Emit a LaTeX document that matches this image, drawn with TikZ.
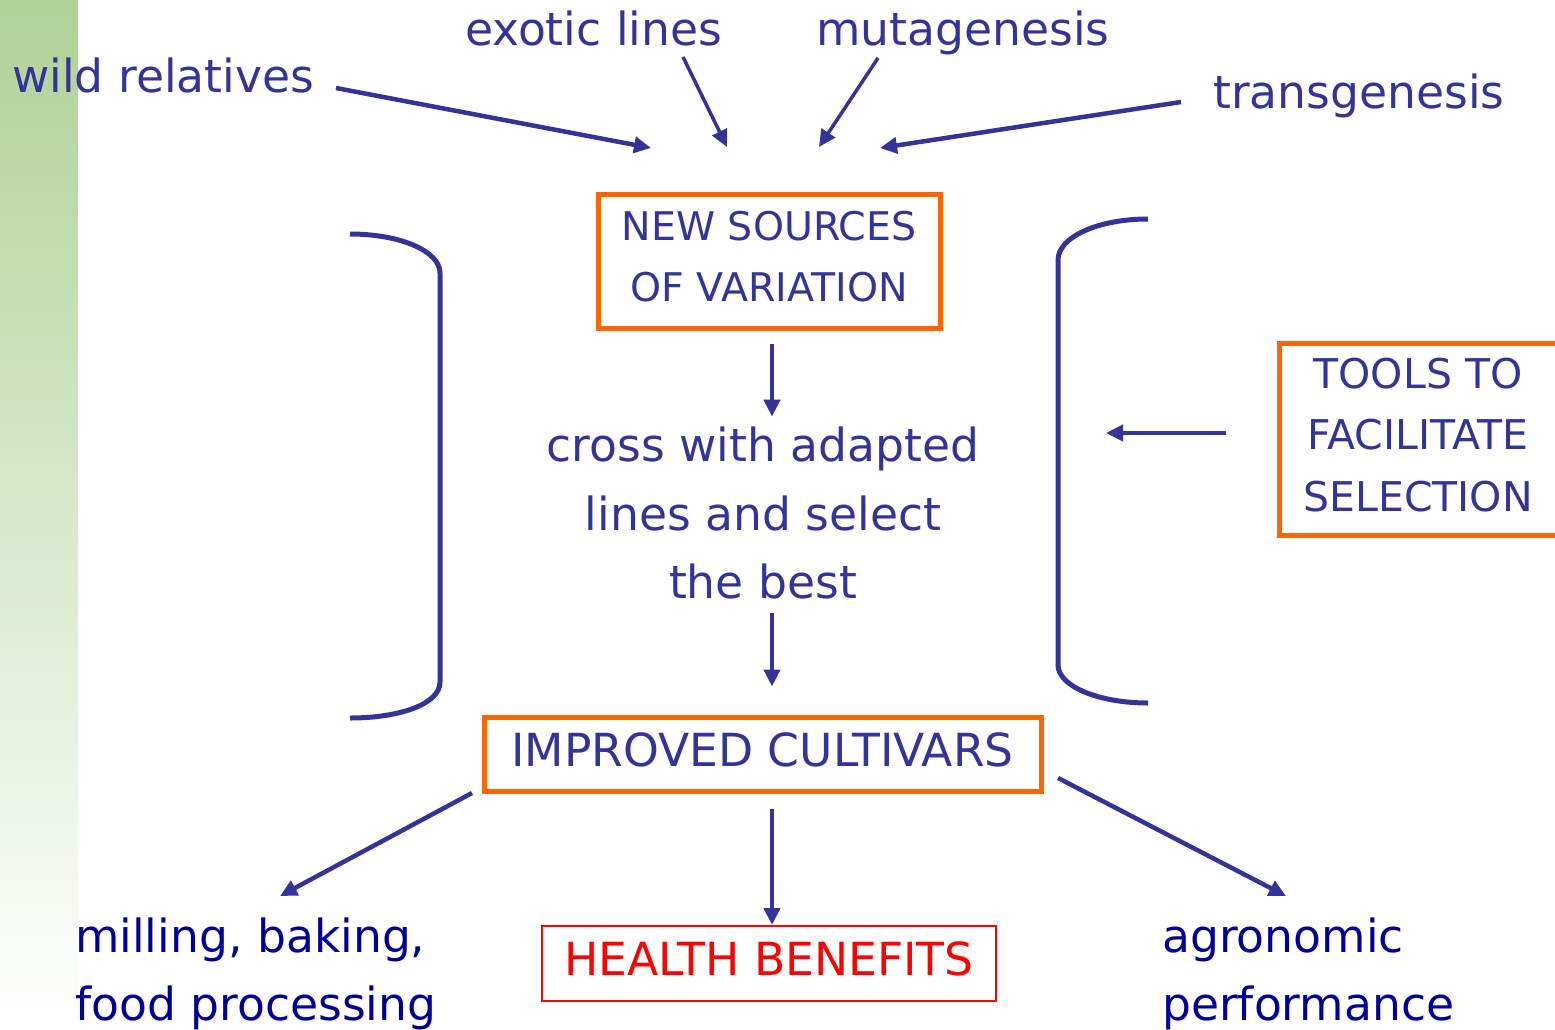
\documentclass[tikz,border=0pt]{standalone}
\usepackage{fontspec}
\setmainfont{DejaVu Sans}
\usetikzlibrary{arrows.meta}
\definecolor{txtblue}{HTML}{333399}
\definecolor{navyblue}{HTML}{000099}
\definecolor{boxorange}{HTML}{FF6600}
\definecolor{bargreen}{HTML}{AED296}
\begin{document}
\begin{tikzpicture}[x=1pt,y=-1pt,
		txt/.style={text=txtblue,inner sep=0pt,font=\fontsize{45.6}{68.5}\selectfont},
		obox/.style={draw=boxorange,line width=5pt,text=txtblue,inner sep=0pt,text depth=9pt,align=center},
		arr/.style={draw=txtblue,line width=4.5pt,-{Triangle[length=17pt,width=16pt]}},
		brk/.style={draw=txtblue,line width=5pt}]
		\useasboundingbox (0,0) rectangle (1555,1029);
		\shade[top color=bargreen,bottom color=white] (0,0) rectangle (78,1029);
		% sources of variation
		\node[txt,anchor=base west] (wild) at (12,92) {wild relatives};
		\node[txt,anchor=base west] (exotic) at (465,45) {exotic lines};
		\node[txt,anchor=base west] (muta) at (816,45) {mutagenesis};
		\node[txt,anchor=base west] (trans) at (1213,108) {transgenesis};
		\coordinate (wild-s) at (336,88);    \coordinate (wild-e) at (651,148);
		\coordinate (exotic-s) at (683,57);  \coordinate (exotic-e) at (727,147);
		\coordinate (muta-s) at (878,58);    \coordinate (muta-e) at (819,147);
		\coordinate (trans-s) at (1181,102); \coordinate (trans-e) at (880,148);
		\draw[arr] (wild-s) -- (wild-e);
		\draw[arr,line width=3.5pt] (exotic-s) -- (exotic-e);
		\draw[arr,line width=3.5pt] (muta-s) -- (muta-e);
		\draw[arr] (trans-s) -- (trans-e);
		%
		\node[obox,minimum width=342pt,minimum height=134pt,font=\fontsize{39.5}{61.5}\selectfont] (sources) at (769,261) {NEW SOURCES\\OF VARIATION};
		\node[txt,align=center] (cross) at (763,513) {cross with adapted\\lines and select\\the best};
		\node[obox,minimum width=557pt,minimum height=74pt,font=\fontsize{45.6}{68.5}\selectfont] (cultivars) at (762.5,754) {IMPROVED CULTIVARS};
		\node[obox,minimum width=278pt,minimum height=192pt,font=\fontsize{41}{61.5}\selectfont] (tools) at (1418,439) {TOOLS TO\\FACILITATE\\SELECTION};
		\coordinate (axis) at (772,0);
		\draw[arr,shorten <=13pt,shorten >=10pt] (sources.south -| axis) -- (cross.north -| axis);
		\draw[arr,shorten <=14pt,shorten >=28pt] (cross.south -| axis) -- (cultivars.north -| axis);
		\coordinate (tools-s) at (1226,433); \coordinate (tools-e) at (1106,433);
		\draw[arr] (tools-s) -- (tools-e);
		% brackets
		\draw[brk] (350,234) .. controls (400,234) and (440,251) .. (440,273) -- (440,682) .. controls (440,704) and (400,718) .. (350,718);
		\draw[brk] (1148,219) .. controls (1098,219) and (1058,237) .. (1058,260) -- (1058,665) .. controls (1058,686) and (1098,703) .. (1148,703);
		% outcomes
		\node[draw=red,line width=2pt,text=red,inner sep=0pt,text depth=9pt,minimum width=454pt,minimum height=75pt,font=\fontsize{45.6}{68.5}\selectfont] (health) at (769,963.5) {HEALTH BENEFITS};
		\node[txt,text=navyblue,align=left,anchor=north west] (milling) at (75,917.3) {milling, baking,\\food processing};
		\node[txt,text=navyblue,align=left,anchor=north west] (agro) at (1162,917.3) {agronomic\\performance};
		\coordinate (mill-s) at (472,793); \coordinate (mill-e) at (280,896);
		\coordinate (agro-s) at (1058,778); \coordinate (agro-e) at (1286,896);
		\draw[arr] (mill-s) -- (mill-e);
		\draw[arr,shorten <=15pt] (cultivars.south -| axis) -- (health.north -| axis);
		\draw[arr] (agro-s) -- (agro-e);
	\end{tikzpicture}
\end{document}
